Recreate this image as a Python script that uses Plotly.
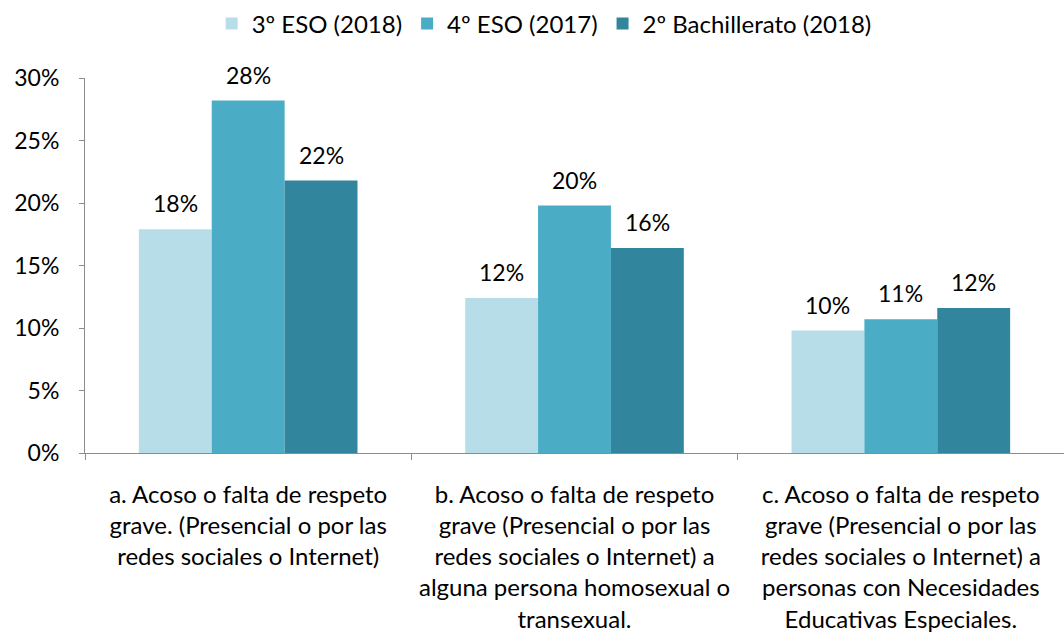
import plotly.graph_objects as go

categories = [
    "a. Acoso o falta de respeto<br>grave. (Presencial o por las<br>redes sociales o Internet)",
    "b. Acoso o falta de respeto<br>grave (Presencial o por las<br>redes sociales o Internet) a<br>alguna persona homosexual o<br>transexual.",
    "c. Acoso o falta de respeto<br>grave (Presencial o por las<br>redes sociales o Internet) a<br>personas con Necesidades<br>Educativas Especiales.",
]
series_names = ["3º ESO (2018)", "4º ESO (2017)", "2º Bachillerato (2018)"]
eso3_2018 = [0.179, 0.124, 0.098]
eso4_2017 = [0.282, 0.198, 0.107]
bach2_2018 = [0.218, 0.164, 0.116]
colors = ["#B7DEE8", "#4BACC6", "#31859C"]

FONT = "Lato, Calibri, Carlito, sans-serif"
W, H = 1064, 636
M_L, M_R, M_T, M_B = 85, 0, 78, 183
BARGAP = 0.33

fig = go.Figure()
all_series = [eso3_2018, eso4_2017, bach2_2018]
for name, vals, col in zip(series_names, all_series, colors):
    fig.add_trace(go.Bar(
        x=categories, y=vals, name=name,
        marker=dict(color=col, line=dict(width=0)),
        cliponaxis=False,
    ))

# value labels above each bar, offset horizontally to the bar's slot in its group
cat_px = (W - M_L - M_R) / len(categories)
bar_px = cat_px * (1 - BARGAP) / len(all_series)
for i, vals in enumerate(all_series):
    shift = (i - (len(all_series) - 1) / 2) * bar_px
    for cat, v in zip(categories, vals):
        fig.add_annotation(
            x=cat, y=v, xref="x", yref="y", text=f"{v:.0%}", showarrow=False,
            xshift=shift, yshift=26, yanchor="middle", xanchor="center",
            font=dict(size=23, color="#000000", family=FONT),
        )

fig.update_layout(
    width=W, height=H,
    margin=dict(l=M_L, r=M_R, t=M_T, b=M_B, autoexpand=False),
    paper_bgcolor="white", plot_bgcolor="white",
    barmode="group", bargap=BARGAP, bargroupgap=0,
    font=dict(family=FONT, size=23, color="#000000"),
    legend=dict(orientation="h", x=0.469, xanchor="center", y=1.144, yanchor="middle",
                font=dict(size=24), itemwidth=30, traceorder="normal"),
    showlegend=True,
)
fig.update_yaxes(
    range=[0, 0.3], dtick=0.05, tickformat=".0%", automargin=False,
    showgrid=False, zeroline=False,
    showline=True, linecolor="#8C8C8C", linewidth=1,
    ticks="outside", ticklen=5, tickcolor="#8C8C8C",
    tickfont=dict(size=23), ticklabelstandoff=15,
)
fig.update_xaxes(
    automargin=False,
    showgrid=False, showline=True, linecolor="#8C8C8C", linewidth=1,
    ticks="outside", ticklen=6, tickcolor="#8C8C8C", tickson="boundaries",
    tickfont=dict(size=24), tickangle=0, ticklabelstandoff=20,
)

fig.write_html("out.html")
